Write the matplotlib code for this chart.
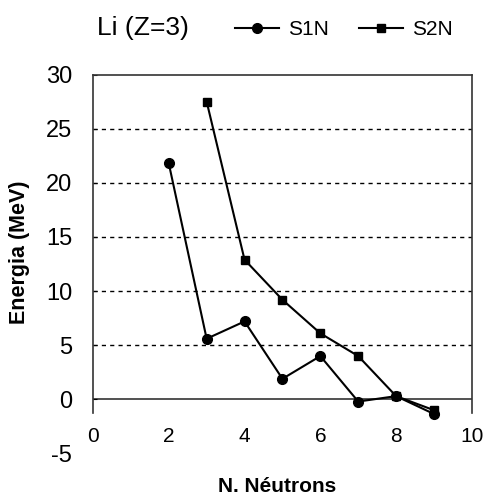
import numpy as np
import matplotlib.pyplot as plt

plt.rcParams['font.family'] = ['Liberation Sans', 'DejaVu Sans']
plt.rcParams['axes.unicode_minus'] = False

## valores
x_s1n = [2, 3, 4, 5, 6, 7, 8, 9]
s1n = [21.8, 5.6, 7.2, 1.9, 4.0, -0.2, 0.3, -1.35]
x_s2n = [3, 4, 5, 6, 7, 8, 9]
s2n = [27.5, 12.9, 9.2, 6.1, 4.0, 0.3, -1.0]

xticks = [0, 2, 4, 6, 8, 10]
yticks = [-5, 0, 5, 10, 15, 20, 25, 30]
grid_y = [5, 10, 15, 20, 25]

fig = plt.figure(figsize=(4.83, 4.97), dpi=100)
ax = fig.add_axes([0.1925, 0.0875, 0.7845, 0.7625])

for g in grid_y:
    ax.axhline(g, color='black', lw=1, ls=(0, (3, 3)), zorder=1)
ax.axhline(0, color='#333333', lw=1.2, zorder=1)

ax.plot(x_s1n, s1n, color='black', lw=1.5, marker='o', ms=7, label='S1N', zorder=3)
ax.plot(x_s2n, s2n, color='black', lw=1.5, marker='s', ms=5.5, label='S2N', zorder=3)

ax.set_xlim(0, 10)
ax.set_ylim(-5, 30)
ax.set_xticks(xticks)
ax.set_yticks(yticks)

ax.spines['bottom'].set_visible(False)
ax.spines['bottom'].set_position(('data', -1.3))
ax.spines['left'].set_bounds(-1.3, 30)
ax.spines['right'].set_bounds(-1.3, 30)
for s in ['left', 'right', 'top']:
    ax.spines[s].set_color('#333333')
    ax.spines[s].set_linewidth(1.2)

ax.tick_params(axis='x', length=0, pad=10, labelsize=15)
ax.tick_params(axis='y', direction='in', length=3, pad=15, labelsize=17)
ax.yaxis.get_major_ticks()[0].tick1line.set_visible(False)

ax.set_xlabel('N. Néutrons', fontsize=15, fontweight='bold')
ax.set_ylabel('Energia (MeV)', fontsize=15.5, fontweight='bold')
ax.xaxis.set_label_coords(0.4855, -0.062)
ax.yaxis.set_label_coords(-0.165, 0.53)

fig.text(0.2, 0.943, 'Li (Z=3)', fontsize=19, va='center')
fig.legend(loc='center left', bbox_to_anchor=(0.4865, 0.941), ncol=2, frameon=False,
           fontsize=15, handlelength=2.1, columnspacing=1.46, handletextpad=0.45,
           borderaxespad=0, borderpad=0)

fig.savefig('out.png', dpi=100)
